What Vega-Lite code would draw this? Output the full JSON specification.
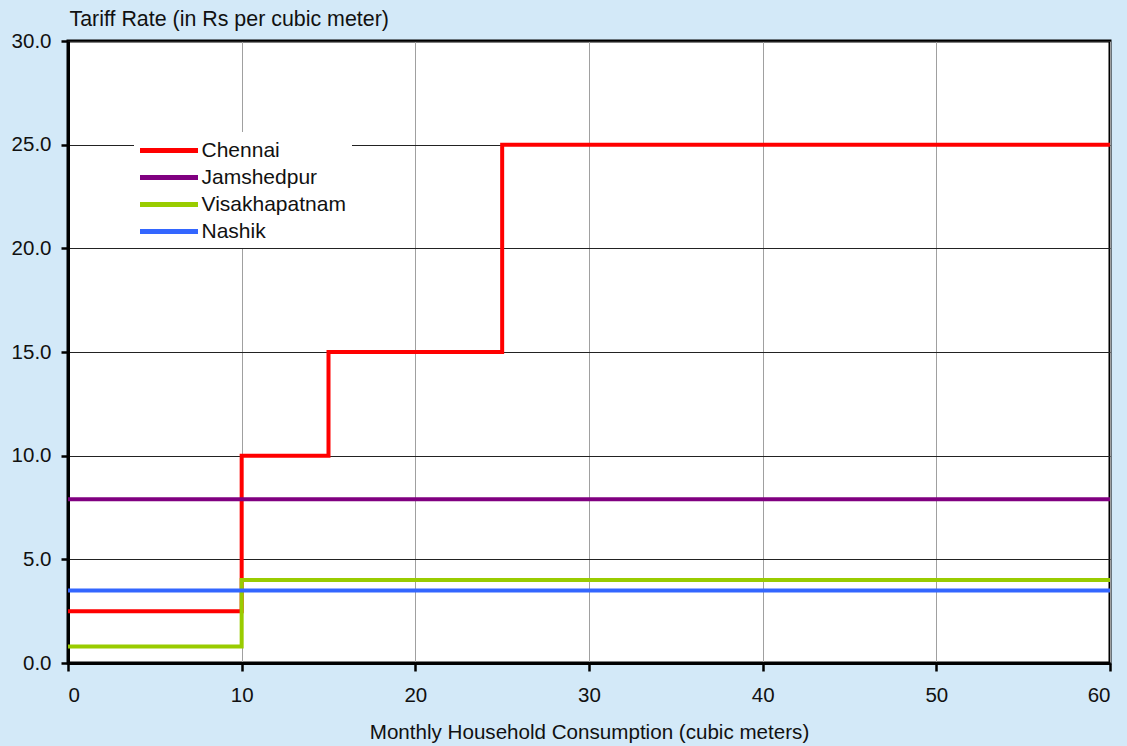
{
  "$schema": "https://vega.github.io/schema/vega-lite/v6.json",
  "width": 1042,
  "height": 622,
  "autosize": {"type": "none"},
  "padding": {"left": 68, "top": 41, "right": 17, "bottom": 83},
  "background": "#d3e9f8",
  "view": {"fill": "white", "stroke": "black", "strokeWidth": 3},
  "config": {"font": "Liberation Sans"},
  "data": {
    "values": [
      {"city": "Chennai", "x": 0, "rate": 2.5},
      {"city": "Chennai", "x": 10, "rate": 10},
      {"city": "Chennai", "x": 15, "rate": 15},
      {"city": "Chennai", "x": 25, "rate": 25},
      {"city": "Chennai", "x": 60, "rate": 25},
      {"city": "Jamshedpur", "x": 0, "rate": 7.9},
      {"city": "Jamshedpur", "x": 60, "rate": 7.9},
      {"city": "Visakhapatnam", "x": 0, "rate": 0.8},
      {"city": "Visakhapatnam", "x": 10, "rate": 4},
      {"city": "Visakhapatnam", "x": 60, "rate": 4},
      {"city": "Nashik", "x": 0, "rate": 3.5},
      {"city": "Nashik", "x": 60, "rate": 3.5}
    ]
  },
  "mark": {"type": "line", "interpolate": "step-after", "strokeWidth": 4, "strokeCap": "butt"},
  "encoding": {
    "x": {
      "field": "x", "type": "quantitative",
      "scale": {"domain": [0, 60], "nice": false},
      "axis": {
        "values": [0, 10, 20, 30, 40, 50, 60],
        "title": "Monthly Household Consumption (cubic meters)",
        "titleFontSize": 20.6, "titleFontWeight": "normal", "titleColor": "#111",
        "titleY": 75, "titleBaseline": "alphabetic",
        "labelFontSize": 20.5, "labelColor": "#111",
        "labelPadding": 14, "tickSize": 8, "tickWidth": 2.5, "tickColor": "black",
        "domainColor": "black", "domainWidth": 3,
        "grid": true, "gridColor": "#a0a0a0", "gridWidth": 1
      }
    },
    "y": {
      "field": "rate", "type": "quantitative",
      "scale": {"domain": [0, 30], "nice": false},
      "axis": {
        "values": [0, 5, 10, 15, 20, 25, 30],
        "format": ".1f",
        "title": "Tariff Rate (in Rs per cubic meter)",
        "titleFontSize": 21.4, "titleFontWeight": "normal", "titleColor": "#111",
        "titleAngle": 0, "titleAlign": "left", "titleBaseline": "alphabetic",
        "titleX": 1, "titleY": -16,
        "labelFontSize": 20.5, "labelColor": "#111",
        "labelPadding": 10, "tickSize": 7, "tickWidth": 2.5, "tickColor": "black",
        "domainColor": "black", "domainWidth": 3,
        "grid": true, "gridColor": "#222222", "gridWidth": 1
      }
    },
    "color": {
      "field": "city", "type": "nominal",
      "scale": {
        "domain": ["Chennai", "Jamshedpur", "Visakhapatnam", "Nashik"],
        "range": ["#ff0000", "#800080", "#99cc00", "#3366ff"]
      },
      "legend": {
        "title": null,
        "orient": "none",
        "legendX": 66,
        "legendY": 91,
        "fillColor": "white",
        "padding": 6,
        "symbolType": "M-2.9,0H2.9",
        "symbolSize": 400,
        "symbolStrokeWidth": 5,
        "symbolOffset": 16.5,
        "labelFontSize": 21,
        "labelColor": "#111",
        "labelOffset": 20,
        "rowPadding": 4
      }
    },
    "order": {"field": "x"}
  }
}
